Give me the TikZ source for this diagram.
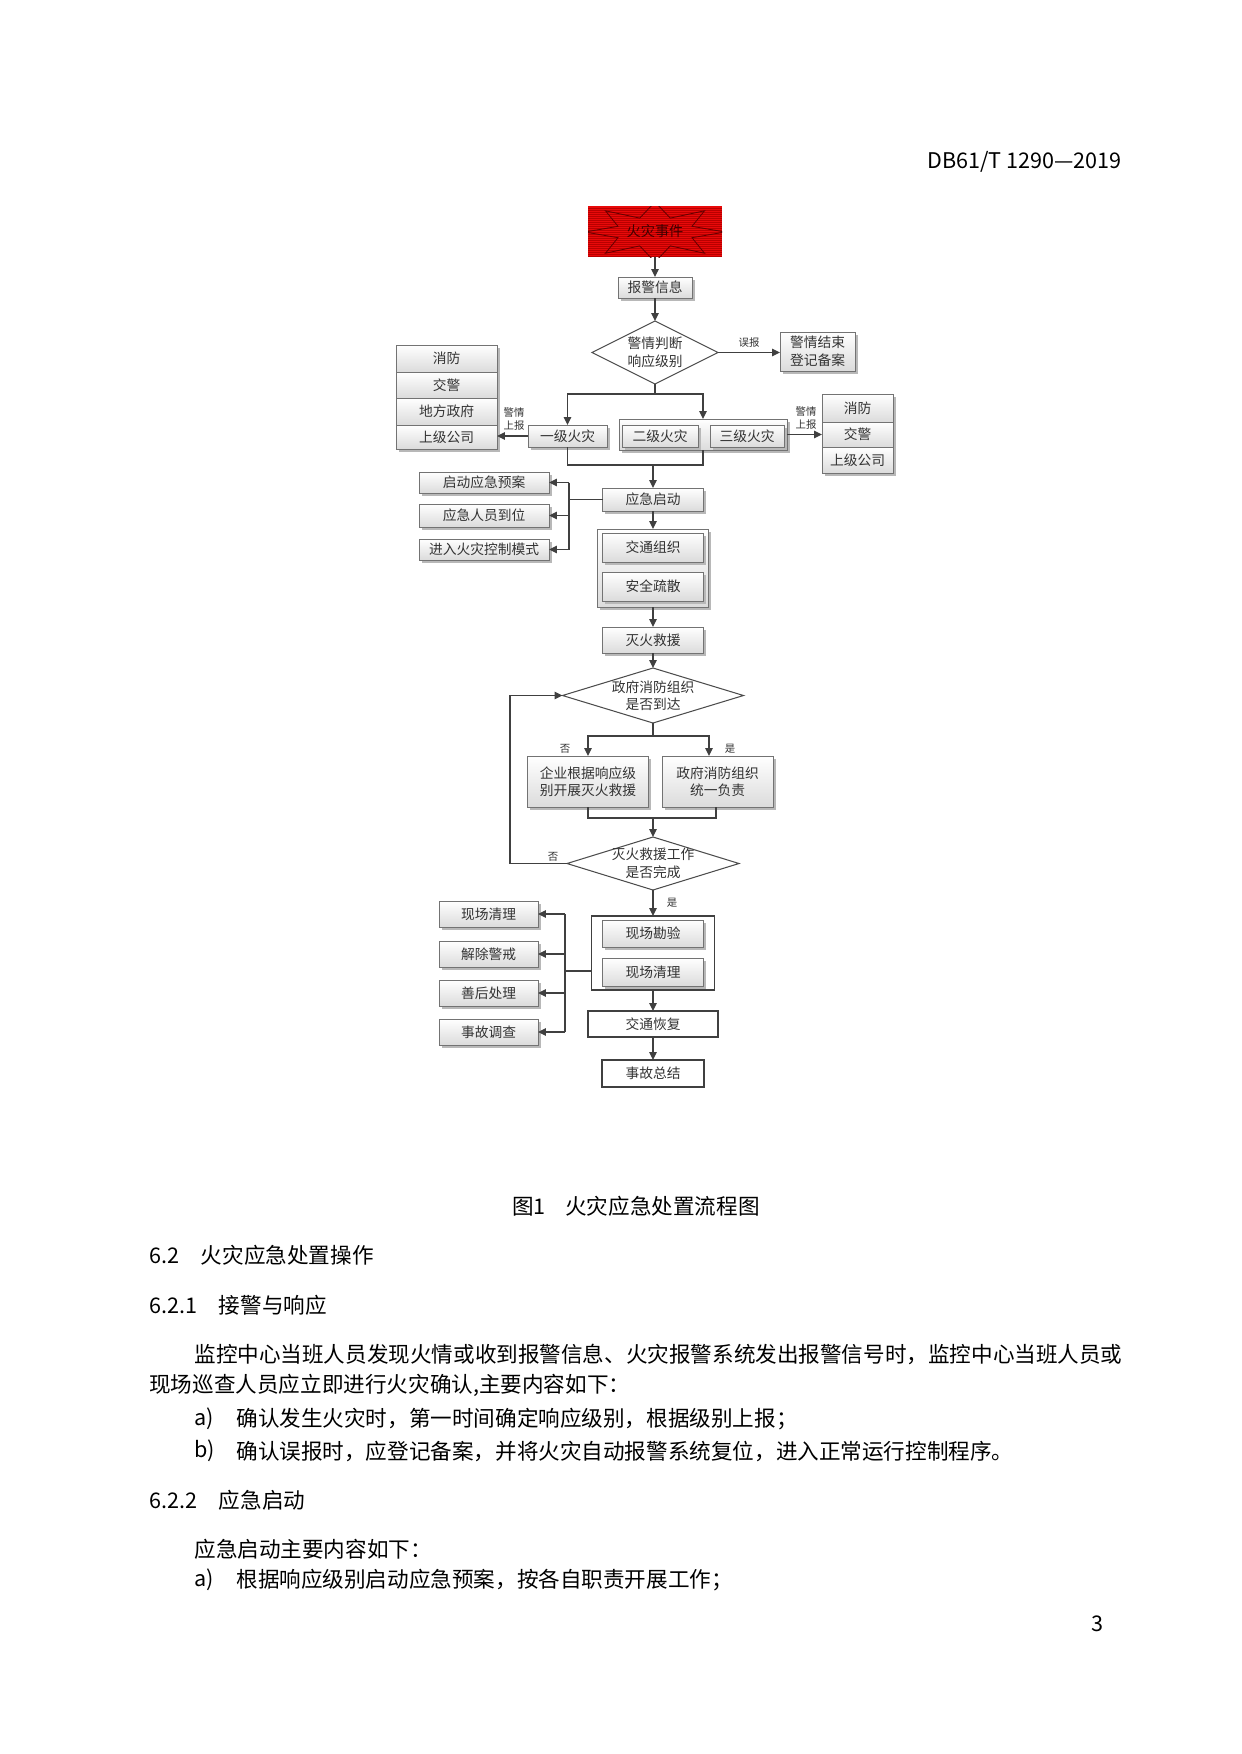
\documentclass[tikz,border=0pt]{standalone}
\usepackage{fontspec}
\setmainfont{Noto Sans CJK SC}
\usetikzlibrary{arrows.meta,shadows,shapes.geometric,backgrounds,calc}
\definecolor{firered}{RGB}{232,10,10}
\definecolor{firestripe}{RGB}{185,0,0}
\begin{document}
\begin{tikzpicture}[x=0.48bp,y=-0.48bp,
  sz/.style n args={2}{minimum width=#1*0.48bp, minimum height=#2*0.48bp},
  base/.style={rectangle, inner sep=0pt, outer sep=0pt, font=\fontsize{6.6bp}{8.4bp}\selectfont, text=black!80, align=center},
  bx/.style={base, draw=black!55, line width=0.45bp, top color=white, bottom color=black!14,
     general shadow={fill=black!28, shadow xshift=1.2bp, shadow yshift=-1.2bp}},
  wbx/.style={base, draw=black!75, line width=0.5bp, fill=white},
  dia/.style={diamond, draw=black!70, line width=0.5bp, inner sep=0pt, outer sep=0pt},
  dlab/.style={base},
  diabg/.style={top color=white, bottom color=black!9},
  ar/.style={draw=black!75, line width=0.55bp, -{Triangle[length=3.8bp,width=3.6bp]}},
  ln/.style={draw=black!75, line width=0.55bp},
  lab/.style={font=\fontsize{5bp}{6bp}\selectfont, text=black!80, inner sep=0pt, align=center},
  txt/.style={font=\fontsize{10.36bp}{12bp}\selectfont, inner sep=0pt, text=black}]
\useasboundingbox (0,0) rectangle (1241,1754);
\fill[white] (0,0) rectangle (1241,1754);

% ---------- page text ----------
\node[txt, anchor=east] (hdr) at (1122,162) {DB61/T 1290—2019};
\node[txt] (cap) at (636,1206) {图1\hspace{0.9em}火灾应急处置流程图};
\node[txt, anchor=west] (h62) at (149,1255) {6.2\hspace{1em}火灾应急处置操作};
\node[txt, anchor=west] (h621) at (149,1305) {6.2.1\hspace{1em}接警与响应};
\node[txt, anchor=west] (p1) at (194,1354) {监控中心当班人员发现火情或收到报警信息、火灾报警系统发出报警信号时，监控中心当班人员或};
\node[txt, anchor=west] (p2) at (149,1385) {现场巡查人员应立即进行火灾确认,主要内容如下：};
\node[txt, anchor=west] (ia) at (194,1419) {a)};
\node[txt, anchor=west] (ta) at (236,1419) {确认发生火灾时，第一时间确定响应级别，根据级别上报；};
\node[txt, anchor=west] (ib) at (194,1451) {b)};
\node[txt, anchor=west] (tb) at (236,1451) {确认误报时，应登记备案，并将火灾自动报警系统复位，进入正常运行控制程序。};
\node[txt, anchor=west] (h622) at (149,1500) {6.2.2\hspace{1em}应急启动};
\node[txt, anchor=west] (p3) at (194,1549) {应急启动主要内容如下：};
\node[txt, anchor=west] (ic) at (194,1580) {a)};
\node[txt, anchor=west] (tc) at (236,1580) {根据响应级别启动应急预案，按各自职责开展工作；};
\node[txt] (pg) at (1097,1624) {3};

% ---------- flowchart nodes ----------
\node[base, sz={134}{51}, fill=firered, text=red!25!black, font=\fontsize{6.8bp}{8bp}\selectfont,
  path picture={\foreach \k in {1,...,25} {\draw[firestripe, line width=0.25bp]
     ([yshift=-\k*2*0.48bp]path picture bounding box.north west) --
     ([yshift=-\k*2*0.48bp]path picture bounding box.north east);}}] (fire) at (655,231.5) {火灾事件};
\begin{scope}
  \clip (fire.north west) rectangle (fire.south east);
  \draw[red!40!black, line width=0.4bp] (655,202) -- (670.3,218.1) -- (704.5,210.8) -- (692,226.3) -- (725,232) -- (692,237.7) -- (704.5,253.2) -- (670.3,245.9) -- (655,262) -- (639.7,245.9) -- (605.5,253.2) -- (618,237.7) -- (585,232) -- (618,226.3) -- (605.5,210.8) -- (639.7,218.1) -- cycle;
\end{scope}

\node[bx, sz={74}{21}] (alarm) at (655,287.5) {报警信息};
\node[dia, sz={126}{63}, label={[dlab]center:{警情判断\\响应级别}}] (D1) at (655,352.5) {};
\node[bx, sz={75}{39}] (fin) at (817.5,351.5) {警情结束\\登记备案};

\node[bx, sz={101}{27}] (L1) at (446.5,358.5) {消防};
\node[bx, sz={101}{26}] (L2) at (446.5,385) {交警};
\node[bx, sz={101}{27}] (L3) at (446.5,411.5) {地方政府};
\node[bx, sz={101}{24}] (L4) at (446.5,437) {上级公司};

\node[bx, sz={79}{22}] (lvl1) at (567.5,436) {一级火灾};
\node[bx, sz={168}{31}] (G23) at (703,434.5) {};
\node[bx, sz={76}{22}] (lvl2) at (660,436) {二级火灾};
\node[bx, sz={74}{22}] (lvl3) at (747,436) {三级火灾};

\node[bx, sz={71}{28}] (R1) at (857.5,408) {消防};
\node[bx, sz={71}{25}] (R2) at (857.5,434.5) {交警};
\node[bx, sz={71}{26}] (R3) at (857.5,460) {上级公司};

\node[bx, sz={101}{23}] (start) at (653,499.5) {应急启动};
\node[bx, sz={130}{21}] (P1) at (484,482.5) {启动应急预案};
\node[bx, sz={130}{23}] (P2) at (484,515.5) {应急人员到位};
\node[bx, sz={130}{21}] (P3) at (484,549.5) {进入火灾控制模式};

\node[bx, sz={111}{78}] (G2) at (653,568) {};
\node[bx, sz={101}{29}] (T1) at (653,547.5) {交通组织};
\node[bx, sz={101}{29}] (T2) at (653,586.5) {安全疏散};

\node[bx, sz={101}{26}] (rescue) at (653,640) {灭火救援};
\node[dia, sz={181}{55}, label={[dlab]center:{政府消防组织\\是否到达}}] (D2) at (653,695.5) {};
\node[bx, sz={121}{51}] (E1) at (588,781.5) {企业根据响应级\\别开展灭火救援};
\node[bx, sz={111}{51}] (E2) at (717.5,781.5) {政府消防组织\\统一负责};
\node[dia, sz={172}{53}, label={[dlab]center:{灭火救援工作\\是否完成}}] (D3) at (653,863.5) {};

\node[wbx, sz={123}{74}] (G3) at (653,953) {};
\node[bx, sz={101}{27}] (S1) at (653,933.5) {现场勘验};
\node[bx, sz={101}{28}] (S2) at (653,972) {现场清理};
\node[wbx, sz={130}{26}] (traffic) at (653,1024) {交通恢复};
\node[wbx, sz={102}{27}] (summary) at (653,1073.5) {事故总结};

\node[bx, sz={99}{26}] (Q1) at (488.5,914) {现场清理};
\node[bx, sz={99}{26}] (Q2) at (488.5,954) {解除警戒};
\node[bx, sz={99}{26}] (Q3) at (488.5,993) {善后处理};
\node[bx, sz={99}{26}] (Q4) at (488.5,1032) {事故调查};

\begin{scope}[on background layer]
  \fill[diabg] (D1.west |- D1.north) rectangle (D1.east |- D1.south);
  \fill[diabg] (D2.west |- D2.north) rectangle (D2.east |- D2.south);
  \fill[diabg] (D3.west |- D3.north) rectangle (D3.east |- D3.south);
\end{scope}

% ---------- labels ----------
\node[lab] (lwb) at (749,343) {误报};
\node[lab] (lrep1) at (514,419) {警情\\上报};
\node[lab] (lrep2) at (806,418) {警情\\上报};
\node[lab] (lno1) at (565,749) {否};
\node[lab] (lyes1) at (730,749) {是};
\node[lab] (lno2) at (553,857) {否};
\node[lab] (lyes2) at (672,903) {是};

% ---------- connectors ----------
\draw[ar] (fire.south) -- (alarm.north);
\draw[ar] (alarm.south) -- (D1.north);
\draw[ar] (D1.east) -- (D1.east -| fin.west);

\coordinate (b1) at (655,394);
\draw[ln] (D1.south) -- (b1);
\draw[ar] (b1) -| (lvl1.north);
\draw[ar] (b1) -| (G23.north);
\draw[ar] (lvl1.west) -- (lvl1.west -| L4.east);
\draw[ar] (G23.east) -- (G23.east -| R2.west);

\coordinate (m1) at (653,465);
\draw[ln] (lvl1.south) |- (m1) -| (G23.south);
\draw[ar] (m1) -- (start.north);

\coordinate (j1) at (569,499.5);
\draw[ln] (start.west) -- (j1);
\draw[ln] (j1 |- P1) -- (j1 |- P3);
\draw[ar] (j1 |- P1) -- (P1.east);
\draw[ar] (j1 |- P2) -- (P2.east);
\draw[ar] (j1 |- P3) -- (P3.east);

\draw[ar] (start.south) -- (G2.north);
\draw[ar] (G2.south) -- (rescue.north);
\draw[ar] (rescue.south) -- (D2.north);

\coordinate (b2) at (653,736);
\draw[ln] (D2.south) -- (b2);
\draw[ar] (b2) -| (E1.north);
\draw[ar] (b2) -| ([xshift=-8.5*0.48bp]E2.north);

\coordinate (m2) at (653,818);
\draw[ln] (E1.south) |- (m2) -| ([xshift=-1.5*0.48bp]E2.south);
\draw[ar] (m2) -- (D3.north);

\draw[ar] (D3.west) -- ++(-57,0) |- (D2.west);

\draw[ar] (D3.south) -- (G3.north);
\draw[ar] (G3.south) -- (traffic.north);
\draw[ar] (traffic.south) -- (summary.north);

\coordinate (j2) at (565,971);
\draw[ln] (G3.west |- j2) -- (j2);
\draw[ln] (j2 |- Q1) -- (j2 |- Q4);
\draw[ar] (j2 |- Q1) -- (Q1.east);
\draw[ar] (j2 |- Q2) -- (Q2.east);
\draw[ar] (j2 |- Q3) -- (Q3.east);
\draw[ar] (j2 |- Q4) -- (Q4.east);
\end{tikzpicture}
\end{document}
